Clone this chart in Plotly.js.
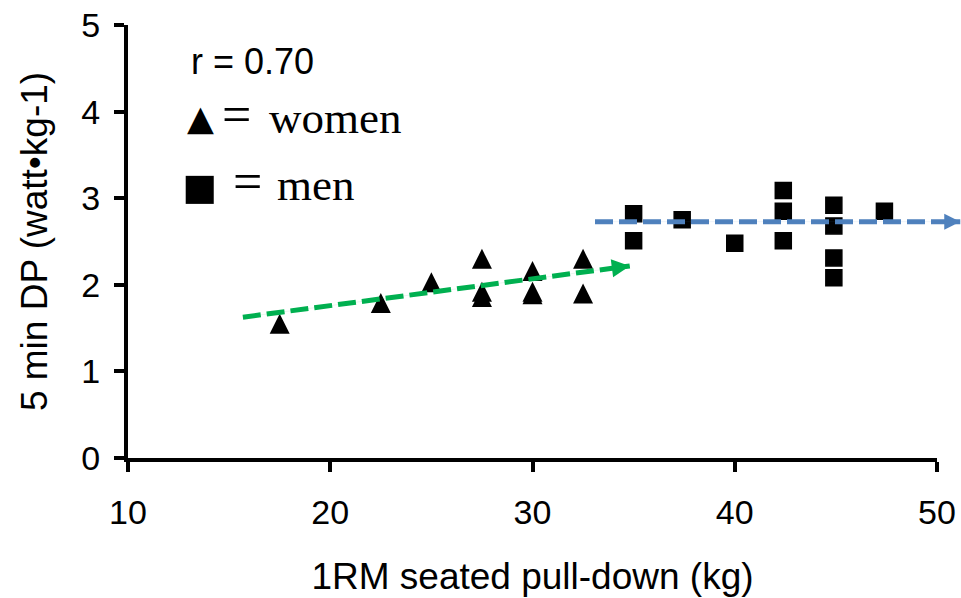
<!DOCTYPE html>
<html>
<head>
<meta charset="utf-8">
<script src="https://cdn.plot.ly/plotly-3.0.1.min.js"></script>
<style>html,body{margin:0;padding:0;background:#fff;}</style>
</head>
<body>
<div id="chart" style="width:961px;height:598px;"></div>
<script>
// ---- data ----
const womenX = [17.5, 22.5, 25.0, 27.5, 27.5, 27.5, 30.0, 30.0, 30.0, 32.5, 32.5];
const womenY = [1.55, 1.79, 2.03, 2.30, 1.92, 1.86, 2.16, 1.92, 1.89, 2.30, 1.90];
const menX = [35.0, 35.0, 37.4, 40.0, 42.4, 42.4, 42.4, 44.9, 44.9, 44.9, 44.9, 47.4];
const menY = [2.82, 2.51, 2.75, 2.48, 3.09, 2.85, 2.51, 2.92, 2.68, 2.31, 2.08, 2.85];
const womenTrendX = [15.68, 34.81];
const womenTrendY = [1.626, 2.218];
const menTrendX = [33.09, 51.15];
const menTrendY = [2.729, 2.729];
const xTicks = [10, 20, 30, 40, 50];
const yTicks = [0, 1, 2, 3, 4, 5];
const xTitle = '1RM seated pull-down (kg)';
const yTitle = '5 min DP (watt•kg-1)';
const rText = 'r = 0.70';
const legendWomen = 'women';
const legendMen = 'men';

// ---- layout helpers ----
const W = 961, H = 598;
const M = {l: 128, r: 0, t: 25, b: 140};
const plotW = W - M.l - M.r;
const plotH = H - M.t - M.b;
const xEndFrac = 809 / plotW;
const xMin = xTicks[0], xMax = xTicks[xTicks.length - 1];
const x2Max = xMin + (xMax - xMin) / xEndFrac;
function pxX(p) { return (p - M.l) / plotW; }
function pxY(p) { return (H - M.b - p) / plotH; }

const SANS = 'Liberation Sans, Arial, sans-serif';
const SERIF = 'Liberation Serif, Times New Roman, serif';
const SYMB = 'DejaVu Sans, sans-serif';
const GREEN = '#00B050';
const BLUE = '#4F81BD';

const traces = [
  {
    x: womenX, y: womenY, type: 'scatter', mode: 'markers', name: 'women',
    xaxis: 'x', yaxis: 'y',
    marker: {symbol: 'arrow-down', angle: 180, standoff: 10, size: 20, color: '#000'},
    hoverinfo: 'x+y'
  },
  {
    x: menX, y: menY, type: 'scatter', mode: 'markers', name: 'men',
    xaxis: 'x', yaxis: 'y',
    marker: {symbol: 'square', size: 16, color: '#000', line: {color: '#000', width: 1.5}},
    hoverinfo: 'x+y'
  },
  {
    x: womenTrendX, y: womenTrendY, type: 'scatter', mode: 'lines', name: 'women trend',
    xaxis: 'x', yaxis: 'y',
    line: {color: GREEN, width: 5, dash: '18px,6px', backoff: 12},
    hoverinfo: 'skip'
  },
  {
    x: menTrendX, y: menTrendY, type: 'scatter', mode: 'lines', name: 'men trend',
    xaxis: 'x2', yaxis: 'y',
    line: {color: BLUE, width: 5, dash: '18px,6px', backoff: 10},
    hoverinfo: 'skip'
  }
];

const tickFont = {family: SANS, size: 34, color: '#000'};
const titleFont = {family: SANS, size: 37, color: '#000'};

const layout = {
  width: W, height: H,
  margin: M,
  paper_bgcolor: '#fff',
  plot_bgcolor: 'rgba(0,0,0,0)',
  showlegend: false,
  xaxis: {
    domain: [0, xEndFrac], range: [xMin, xMax], anchor: 'y',
    tickvals: xTicks, ticktext: xTicks.map(String),
    showline: true, linecolor: '#000', linewidth: 4,
    ticks: 'outside', ticklen: 10, tickwidth: 4, tickcolor: '#000',
    ticklabelstandoff: 11,
    showgrid: false, zeroline: false,
    tickfont: tickFont,
    title: {text: xTitle, font: titleFont, standoff: 34}
  },
  xaxis2: {
    domain: [0, 1], range: [xMin, x2Max], anchor: 'y',
    visible: false, showgrid: false, zeroline: false
  },
  yaxis: {
    range: [yTicks[0], yTicks[yTicks.length - 1]], anchor: 'x',
    tickvals: yTicks, ticktext: yTicks.map(String),
    showline: true, linecolor: '#000', linewidth: 4,
    ticks: 'outside', ticklen: 10, tickwidth: 4, tickcolor: '#000',
    ticklabelstandoff: 7,
    showgrid: false, zeroline: false,
    tickfont: tickFont,
    title: {text: yTitle, font: titleFont, standoff: 23}
  },
  annotations: [
    // arrow heads of the two trend arrows
    {
      x: womenTrendX[1], y: womenTrendY[1], xref: 'x', yref: 'y',
      ax: womenTrendX[0], ay: womenTrendY[0], axref: 'x', ayref: 'y',
      text: '', showarrow: true, arrowhead: 2, arrowsize: 36, arrowwidth: 0.1, arrowcolor: GREEN
    },
    {
      x: menTrendX[1], y: menTrendY[1], xref: 'x2', yref: 'y',
      ax: menTrendX[0], ay: menTrendY[0], axref: 'x2', ayref: 'y',
      text: '', showarrow: true, arrowhead: 2, arrowsize: 32, arrowwidth: 0.1, arrowcolor: BLUE
    },
    // correlation text
    {
      x: pxX(190), y: pxY(61.5), xref: 'paper', yref: 'paper',
      xanchor: 'left', yanchor: 'middle', showarrow: false, borderpad: 0,
      text: rText, font: {family: SANS, size: 36, color: '#000'}
    },
    // legend row: women
    {
      x: pxX(200), y: pxY(118), xref: 'paper', yref: 'paper',
      xanchor: 'center', yanchor: 'middle', showarrow: false, borderpad: 0,
      text: '▲', font: {family: SYMB, size: 35, color: '#000'}
    },
    {
      x: pxX(236), y: pxY(114.5), xref: 'paper', yref: 'paper',
      xanchor: 'center', yanchor: 'middle', showarrow: false, borderpad: 0,
      text: '=', font: {family: SERIF, size: 52, color: '#000'}
    },
    {
      x: pxX(268), y: pxY(117.8), xref: 'paper', yref: 'paper',
      xanchor: 'left', yanchor: 'middle', showarrow: false, borderpad: 0,
      text: legendWomen, font: {family: SERIF, size: 45, color: '#000'}
    },
    // legend row: men
    {
      x: pxX(199), y: pxY(186), xref: 'paper', yref: 'paper',
      xanchor: 'center', yanchor: 'middle', showarrow: false, borderpad: 0,
      text: '■', font: {family: SANS, size: 58, color: '#000'}
    },
    {
      x: pxX(247.5), y: pxY(181.5), xref: 'paper', yref: 'paper',
      xanchor: 'center', yanchor: 'middle', showarrow: false, borderpad: 0,
      text: '=', font: {family: SERIF, size: 52, color: '#000'}
    },
    {
      x: pxX(276), y: pxY(184.8), xref: 'paper', yref: 'paper',
      xanchor: 'left', yanchor: 'middle', showarrow: false, borderpad: 0,
      text: legendMen, font: {family: SERIF, size: 45, color: '#000'}
    }
  ]
};

Plotly.newPlot('chart', traces, layout, {staticPlot: true, displayModeBar: false});
</script>
</body>
</html>
